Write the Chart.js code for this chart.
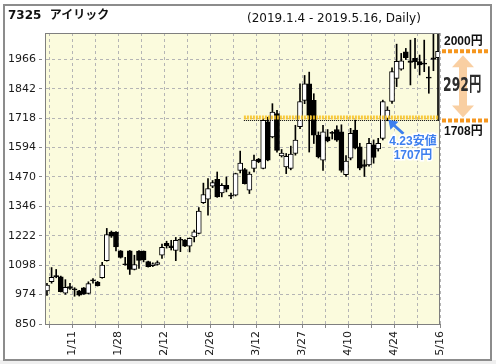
<!DOCTYPE html>
<html>
<head>
<meta charset="utf-8">
<script src="https://cdn.jsdelivr.net/npm/chart.js@4.4.0/dist/chart.umd.min.js"></script>
<style>
    html, body { margin: 0; padding: 0; background: #fff; }
    #wrap { position: relative; width: 496px; height: 364px; }
    #wrap canvas { position: absolute; left: 0; top: 0; }
    .ttl { position: absolute; font-family: "DejaVu Sans", "Noto Sans CJK JP", sans-serif; color: #111; white-space: nowrap; line-height: 14px; }
    #code { left: 8px; top: 8px; font-size: 12px; font-weight: bold; }
    #range { left: 247px; top: 11px; font-size: 12px; }
</style>
</head>
<body>
<div id="wrap">
    <canvas id="chart" width="496" height="364"></canvas>
    <div class="ttl" id="code">7325&nbsp;&nbsp;アイリック</div>
    <div class="ttl" id="range">(2019.1.4 - 2019.5.16, Daily)</div>
</div>
<script>
// trading days 2019.1.4 - 2019.5.16
const dates = ['1/4','1/7','1/8','1/9','1/10','1/11','1/15','1/16','1/17','1/18','1/21','1/22','1/23','1/24','1/25',
    '1/28','1/29','1/30','1/31','2/1','2/4','2/5','2/6','2/7','2/8','2/12','2/13','2/14','2/15','2/18','2/19','2/20',
    '2/21','2/22','2/25','2/26','2/27','2/28','3/1','3/4','3/5','3/6','3/7','3/8','3/11','3/12','3/13','3/14','3/15',
    '3/18','3/19','3/20','3/22','3/25','3/26','3/27','3/28','3/29','4/1','4/2','4/3','4/4','4/5','4/8','4/9','4/10',
    '4/11','4/12','4/15','4/16','4/17','4/18','4/19','4/22','4/23','4/24','4/25','4/26','5/7','5/8','5/9','5/10',
    '5/13','5/14','5/15','5/16'];

const opens = [989,1028,1054,1049,980,1008,998,990,1002,979,1036,1027,1045,1117,1238,1238,1159,1103,1158,1080,
    1157,1157,1113,1096,1101,1140,1190,1180,1160,1207,1204,1178,1217,1232,1362,1376,1431,1460,1403,1435,1391,1393,
    1498,1501,1414,1506,1545,1506,1702,1639,1737,1559,1512,1506,1569,1682,1793,1863,1793,1646,1541,1639,1657,1670,
    1660,1480,1549,1668,1597,1522,1521,1605,1588,1633,1717,1788,1886,1925,1998,1960,1970,1956,1950,1891,1972,1973];
const highs = [1022,1088,1080,1052,1037,1022,1003,992,1004,1028,1042,1030,1110,1253,1242,1240,1160,1131,1160,1140,
    1160,1158,1115,1108,1116,1187,1199,1203,1215,1215,1206,1213,1246,1341,1444,1463,1455,1491,1442,1470,1402,1486,
    1579,1506,1491,1562,1548,1716,1722,1779,1751,1586,1569,1600,1688,1863,1898,1912,1821,1660,1688,1670,1662,1686,
    1690,1560,1675,1710,1612,1542,1633,1626,1633,1794,1766,1930,2030,1991,2012,2047,2054,1984,2047,1935,2080,2080];
const lows = [970,1022,1045,985,975,996,967,968,975,977,1022,1010,1043,1115,1215,1158,1128,1098,1059,1078,
    1084,1112,1090,1092,1098,1127,1170,1162,1117,1155,1176,1154,1196,1230,1358,1309,1425,1384,1386,1407,1378,1390,
    1487,1440,1400,1491,1530,1504,1538,1635,1575,1554,1484,1500,1562,1674,1779,1575,1611,1550,1498,1618,1630,1620,
    1490,1472,1542,1588,1500,1472,1515,1528,1579,1626,1707,1780,1851,1920,1965,1858,1928,1900,1914,1823,1918,1708];
const closes = [1014,1047,1050,986,1005,1000,994,972,976,1020,1032,1012,1098,1227,1220,1175,1131,1100,1080,1101,
    1118,1120,1092,1104,1109,1173,1180,1172,1203,1203,1178,1211,1239,1326,1396,1421,1446,1386,1435,1418,1389,1484,
    1529,1442,1482,1541,1534,1709,1541,1744,1582,1571,1557,1566,1625,1788,1863,1730,1646,1554,1660,1622,1654,1625,
    1498,1537,1654,1591,1507,1514,1612,1552,1612,1788,1752,1914,1958,1960,1973,1953,1956,1942,1946,1887,1966,2000];

const yTicks = [850, 974, 1098, 1222, 1346, 1470, 1594, 1718, 1842, 1966];
const lowMark = 1708;      // 4.23 low line / range bottom
const highMark = 2000;     // range top
const lowMarkFrom = '3/11';
const lowDay = '4/23';
const lowDayValue = 1707;

const X_MIN = -0.43, X_MAX = 85.43;
const upColor = '#ffffff', downColor = '#000000';

const idx = d => dates.indexOf(d);

const decor = {
    id: 'decor',
    beforeDraw(chart) {
        const { ctx, chartArea: a } = chart;
        ctx.save();
        ctx.fillStyle = '#fff';
        ctx.fillRect(0, 0, chart.width, chart.height);
        ctx.fillStyle = '#efefef';
        ctx.fillRect(0, 360, chart.width, 4);
        ctx.strokeStyle = '#8c8c8c';
        ctx.lineWidth = 2;
        ctx.strokeRect(4, 5, 487, 355);
        ctx.fillStyle = '#fbfbdd';
        ctx.fillRect(a.left, a.top, a.right - a.left, a.bottom - a.top);
        ctx.restore();
    },
    afterDraw(chart) {
        const { ctx, chartArea: a } = chart;
        const x = chart.scales.x, y = chart.scales.y;
        ctx.save();
        // plot frame
        ctx.strokeStyle = '#7f7f7f';
        ctx.lineWidth = 1;
        ctx.strokeRect(a.left + 0.5, a.top + 0.5, a.right - a.left - 1, a.bottom - a.top);

        // range marks on the right
        const yHi = y.getPixelForValue(highMark), yLo = y.getPixelForValue(lowMark);
        ctx.strokeStyle = '#f5961e';
        ctx.lineWidth = 4;
        ctx.setLineDash([4, 2]);
        [yHi, yLo].forEach(py => {
            ctx.beginPath();
            ctx.moveTo(442, py);
            ctx.lineTo(488, py);
            ctx.stroke();
        });
        ctx.setLineDash([]);

        const cx = 463, t = yHi + 4, b = yLo - 3, hw = 11, sw = 4, hh = 12;
        ctx.fillStyle = 'rgba(243,160,70,0.5)';
        ctx.beginPath();
        ctx.moveTo(cx, t);
        ctx.lineTo(cx + hw, t + hh);
        ctx.lineTo(cx + sw, t + hh);
        ctx.lineTo(cx + sw, b - hh);
        ctx.lineTo(cx + hw, b - hh);
        ctx.lineTo(cx, b);
        ctx.lineTo(cx - hw, b - hh);
        ctx.lineTo(cx - sw, b - hh);
        ctx.lineTo(cx - sw, t + hh);
        ctx.lineTo(cx - hw, t + hh);
        ctx.closePath();
        ctx.fill();

        ctx.fillStyle = '#111';
        ctx.textBaseline = 'middle';
        ctx.textAlign = 'left';
        ctx.font = 'bold 12px "Liberation Sans", "Noto Sans CJK JP", sans-serif';
        ctx.fillText(highMark + '円', 444, yHi - 10);
        ctx.fillText(lowMark + '円', 444, yLo + 11);

        ctx.save();
        ctx.translate(443, (yHi + yLo) / 2);
        ctx.scale(0.62, 1);
        ctx.fillStyle = '#2d2d2d';
        ctx.font = 'bold 20px "DejaVu Sans", "Noto Sans CJK JP", sans-serif';
        ctx.fillText((highMark - lowMark) + '円', 0, 0);
        ctx.restore();

        // 4.23 low callout
        const tx = x.getPixelForValue(idx(lowDay)) + 1, ty = y.getPixelForValue(lowDayValue) - 1;
        const blue = '#3d7fee';
        ctx.strokeStyle = blue;
        ctx.fillStyle = blue;
        ctx.lineWidth = 3;
        ctx.beginPath();
        ctx.moveTo(tx + 15, ty + 14);
        ctx.lineTo(tx + 5, ty + 5);
        ctx.stroke();
        ctx.beginPath();
        ctx.moveTo(tx, ty);
        ctx.lineTo(tx + 10, ty + 2);
        ctx.lineTo(tx + 2, ty + 10);
        ctx.closePath();
        ctx.fill();
        ctx.textAlign = 'center';
        ctx.font = 'bold 12px "Liberation Sans", "Noto Sans CJK JP", sans-serif';
        ctx.lineWidth = 3;
        ctx.strokeStyle = '#fff';
        const label1 = lowDay.replace('/', '.') + '安値', label2 = lowDayValue + '円';
        ctx.strokeText(label1, 413, ty + 22);
        ctx.fillText(label1, 413, ty + 22);
        ctx.strokeText(label2, 413, ty + 36);
        ctx.fillText(label2, 413, ty + 36);
        ctx.restore();
    }
};

new Chart(document.getElementById('chart'), {
    type: 'bar',
    data: {
        datasets: [
            {
                type: 'line',
                data: [{ x: idx(lowMarkFrom) - 1.2, y: lowMark + 13 }, { x: X_MAX, y: lowMark + 13 }],
                borderColor: 'rgba(248,196,40,0.9)',
                borderWidth: 4,
                borderDash: [2, 1],
                pointRadius: 0,
                order: 0
            },
            {
                type: 'line',
                data: [{ x: idx(lowMarkFrom) - 1.2, y: lowMark }, { x: X_MAX, y: lowMark }],
                borderColor: '#000',
                borderWidth: 1,
                borderDash: [1, 1],
                pointRadius: 0,
                order: 0
            },
            {
                data: dates.map((d, i) => ({ x: i, y: [lows[i], highs[i]] })),
                backgroundColor: '#000',
                barThickness: 1,
                grouped: false,
                order: 3
            },
            {
                data: dates.map((d, i) => ({ x: i, y: [opens[i], closes[i]] })),
                backgroundColor: opens.map((o, i) => closes[i] >= o ? upColor : downColor),
                borderColor: '#000',
                borderWidth: 1,
                borderSkipped: false,
                barThickness: 5,
                minBarLength: 1,
                grouped: false,
                order: 2
            }
        ]
    },
    options: {
        responsive: false,
        animation: false,
        devicePixelRatio: 1,
        layout: { padding: { top: 33, right: 56, left: 0, bottom: 0 } },
        plugins: { legend: { display: false }, tooltip: { enabled: false } },
        scales: {
            x: {
                type: 'linear',
                min: X_MIN,
                max: X_MAX,
                offset: false,
                afterBuildTicks: scale => {
                    const t = [];
                    for (let i = 0; i < dates.length; i += 5) t.push({ value: Math.min(i + 0.55, X_MAX) });
                    scale.ticks = t;
                },
                afterFit: scale => { scale.height = 40; },
                ticks: {
                    autoSkip: false,
                    minRotation: 90,
                    maxRotation: 90,
                    padding: 3,
                    color: '#1a1a1a',
                    font: { family: 'DejaVu Sans', size: 11 },
                    callback: v => {
                        const k = Math.round(v - 0.55);
                        return k % 10 === 5 ? dates[k] : '';
                    }
                },
                grid: { offset: false, color: '#b5b5b5', tickLength: 4, tickBorderDash: [3, 3], tickColor: '#888' },
                border: { display: true, color: '#7f7f7f', dash: [3, 3] }
            },
            y: {
                min: 850,
                max: 2077,
                afterBuildTicks: scale => { scale.ticks = yTicks.map(v => ({ value: v })); },
                afterFit: scale => { scale.width = 45; },
                ticks: {
                    padding: 3,
                    color: '#1a1a1a',
                    font: { family: 'DejaVu Sans', size: 11 },
                    callback: v => String(v)
                },
                grid: { color: '#b5b5b5', tickLength: 6, tickBorderDash: [3, 3], tickColor: '#888' },
                border: { display: true, color: '#7f7f7f', dash: [3, 3] }
            }
        }
    },
    plugins: [decor]
});
</script>
</body>
</html>
